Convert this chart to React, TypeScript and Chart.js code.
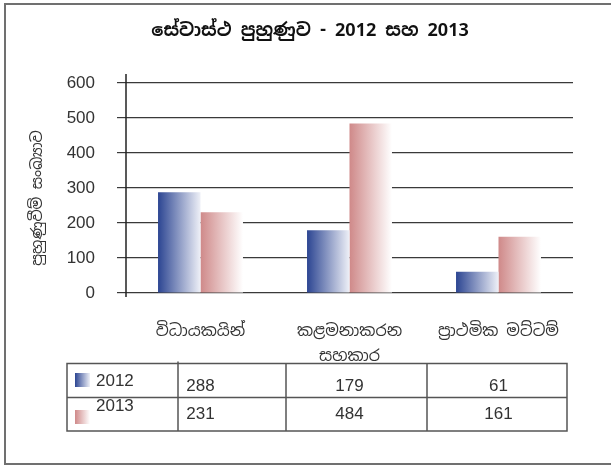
import React, { useEffect, useRef } from "react";
import { Chart, registerables } from "chart.js";

Chart.register(...registerables);

// ---- data ----
const chartTitle = "සේවාස්ථ පුහුණුව - 2012 සහ 2013";
const yAxisTitle = "පුහුණුවීම් සංඛ්‍යාව";
const categories: (string | string[])[] = [
  "විධායකයින්",
  ["කළමනාකරන", "සහකාර"],
  "ප්‍රාථමික මට්ටම්",
];
const seriesNames = ["2012", "2013"];
const values2012 = [288, 179, 61];
const values2013 = [231, 484, 161];
const yMin = 0;
const yMax = 600;
const yStep = 100;

// ---- styles ----
const LATIN = '"Liberation Sans", Arial, Helvetica, sans-serif';
const SINHALA = '"Noto Sans Sinhala", "Noto Serif Sinhala", "Iskoola Pota", "Liberation Sans", sans-serif';
const BLUE_STOPS: [string, string] = ["#2c4592", "#eef0f7"];
const RED_STOPS: [string, string] = ["#cf8989", "#ffffff"];
const CAT_PCT = 0.57;
const TABLE = {
  top: 363.5,
  mid: 397.5,
  bottom: 431,
  cols: [67, 178, 286, 427, 567],
};

function barFill(stops: [string, string]) {
  return (ctx: any) => {
    const chart = ctx.chart;
    const xs = chart.scales && chart.scales.x;
    if (!xs || ctx.type !== "data" || !isFinite(xs.left) || xs.right <= xs.left) return stops[0];
    const nCats = chart.data.labels.length;
    const catW = (xs.right - xs.left) / nCats;
    const groupW = catW * CAT_PCT;
    const nSets = chart.data.datasets.length;
    const barW = groupW / nSets;
    const center = xs.getPixelForValue(ctx.dataIndex);
    const left = center - groupW / 2 + ctx.datasetIndex * barW;
    const g = chart.ctx.createLinearGradient(left, 0, left + barW, 0);
    g.addColorStop(0, stops[0]);
    g.addColorStop(1, stops[1]);
    return g;
  };
}

const decorPlugin = {
  id: "decor",
  beforeDraw(chart: any) {
    const c = chart.ctx;
    c.save();
    c.fillStyle = "#ffffff";
    c.fillRect(0, 0, chart.width, chart.height);
    c.restore();
  },
  afterDraw(chart: any) {
    const c: CanvasRenderingContext2D = chart.ctx;
    const area = chart.chartArea;
    const xs = chart.scales.x;
    c.save();

    // outer frame (left, top, bottom; right edge runs off the picture)
    c.strokeStyle = "#707070";
    c.lineWidth = 2;
    c.beginPath();
    c.moveTo(chart.width + 5, 4);
    c.lineTo(5, 4);
    c.lineTo(5, 464);
    c.lineTo(chart.width + 5, 464);
    c.stroke();

    // title
    c.fillStyle = "#111111";
    c.font = `bold 18px ${SINHALA}`;
    c.textAlign = "center";
    c.textBaseline = "middle";
    c.fillText(chartTitle, 310, 31);

    // y axis line, extending beyond the plot
    c.strokeStyle = "#222222";
    c.lineWidth = 1.5;
    c.beginPath();
    c.moveTo(area.left, area.top - 9);
    c.lineTo(area.left, area.bottom + 4);
    c.stroke();

    // y axis title
    c.save();
    c.translate(38, 198);
    c.rotate(-Math.PI / 2);
    c.fillStyle = "#333333";
    c.font = `15px ${SINHALA}`;
    c.textAlign = "center";
    c.textBaseline = "middle";
    c.fillText(yAxisTitle, 0, 0);
    c.restore();

    // data table
    c.strokeStyle = "#555555";
    c.lineWidth = 1.5;
    const L = TABLE.cols[0];
    const R = TABLE.cols[TABLE.cols.length - 1];
    c.strokeRect(L, TABLE.top, R - L, TABLE.bottom - TABLE.top);
    c.beginPath();
    c.moveTo(L, TABLE.mid);
    c.lineTo(R, TABLE.mid);
    for (let i = 1; i < TABLE.cols.length - 1; i++) {
      c.moveTo(TABLE.cols[i], TABLE.top - (i === 1 ? 2 : 0));
      c.lineTo(TABLE.cols[i], TABLE.bottom);
    }
    c.stroke();

    const rowTextY = [386, 414];
    const legendTextY = [381, 406];
    const swatchY = [373, 410];
    const stopsList = [BLUE_STOPS, RED_STOPS];
    chart.data.datasets.forEach((ds: any, di: number) => {
      // legend swatch
      const g = c.createLinearGradient(75, 0, 90, 0);
      g.addColorStop(0, stopsList[di][0]);
      g.addColorStop(1, stopsList[di][1]);
      c.fillStyle = g;
      c.fillRect(75, swatchY[di], 15, 14);
      // series name
      c.fillStyle = "#333333";
      c.font = `17px ${LATIN}`;
      c.textAlign = "left";
      c.textBaseline = "middle";
      c.fillText(ds.label, 96, legendTextY[di]);
      // values
      c.textAlign = "center";
      ds.data.forEach((v: number, j: number) => {
        c.fillText(String(v), xs.getPixelForValue(j), rowTextY[di]);
      });
    });

    c.restore();
  },
};

export default function App() {
  const ref = useRef<HTMLCanvasElement>(null);

  useEffect(() => {
    if (!ref.current) return;
    const chart = new Chart(ref.current, {
      type: "bar",
      data: {
        labels: categories as any,
        datasets: [
          {
            label: seriesNames[0],
            data: values2012,
            backgroundColor: barFill(BLUE_STOPS) as any,
            borderWidth: 0,
            categoryPercentage: CAT_PCT,
            barPercentage: 1,
          },
          {
            label: seriesNames[1],
            data: values2013,
            backgroundColor: barFill(RED_STOPS) as any,
            borderWidth: 0,
            categoryPercentage: CAT_PCT,
            barPercentage: 1,
          },
        ],
      },
      options: {
        animation: false,
        responsive: false,
        devicePixelRatio: 1,
        layout: { padding: { left: 0, right: 38, top: 83, bottom: 0 } },
        plugins: {
          legend: { display: false },
          title: { display: false },
          tooltip: { enabled: false },
        },
        scales: {
          x: {
            grid: { display: false, drawTicks: false },
            border: { display: false },
            ticks: {
              color: "#333333",
              font: { family: SINHALA, size: 16, lineHeight: 1.55 },
              padding: 26,
              autoSkip: false,
              maxRotation: 0,
              minRotation: 0,
            },
            afterFit: (s: any) => {
              s.height = 173;
            },
          },
          y: {
            min: yMin,
            max: yMax,
            grid: {
              color: "#3a3a3a",
              lineWidth: 1.2,
              tickLength: 9,
              drawTicks: true,
            },
            border: { display: false },
            ticks: {
              stepSize: yStep,
              color: "#333333",
              font: { family: LATIN, size: 17 },
              padding: 22,
            },
            afterFit: (s: any) => {
              s.width = 126;
            },
          },
        },
      },
      plugins: [decorPlugin],
    });
    return () => chart.destroy();
  }, []);

  return (
    <div style={{ position: "absolute", left: 0, top: 0, width: 611, height: 466, background: "#fff" }}>
      <canvas ref={ref} width={611} height={466} style={{ display: "block", width: 611, height: 466 }} />
    </div>
  );
}
